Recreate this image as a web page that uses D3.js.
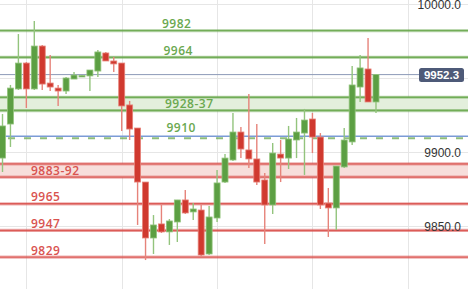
<!DOCTYPE html>
<html>
<head>
<meta charset="utf-8">
<script src="https://cdnjs.cloudflare.com/ajax/libs/d3/7.8.5/d3.min.js"></script>
<style>
  html, body { margin: 0; padding: 0; background: #fff; }
  svg { display: block; }
</style>
</head>
<body>
<div id="chart"></div>
<script>
// candle data, oldest first
var opens  = [9895.9, 9918.9, 9942.6, 9960.1, 9942.6, 9971.6, 9946.6, 9943.2, 9941.2, 9949.3,
              9951.0, 9951.4, 9954.7, 9966.9, 9961.5, 9960.1, 9931.8, 9916.2, 9879.7, 9841.9,
              9851.4, 9846.0, 9852.7, 9867.6, 9859.5, 9860.8, 9831.1, 9855.4, 9879.7, 9894.6,
              9913.5, 9901.4, 9895.3, 9881.1, 9864.2, 9898.6, 9895.9, 9908.1, 9912.8, 9922.3,
              9910.1, 9865.5, 9862.2, 9889.9, 9906.8, 9943.9, 9956.1, 9933.8];
var highs  = [9925.7, 9945.3, 9979.7, 9960.8, 9988.5, 9972.3, 9965.5, 9945.3, 9950.7, 9954.1,
              9952.0, 9955.4, 9968.9, 9967.6, 9964.2, 9960.1, 9934.5, 9916.2, 9879.7, 9857.4,
              9864.2, 9854.7, 9867.6, 9874.3, 9865.5, 9864.2, 9863.5, 9887.8, 9898.6, 9926.4,
              9916.9, 9939.2, 9918.9, 9885.8, 9906.1, 9908.1, 9917.6, 9923.0, 9929.1, 9926.4,
              9912.8, 9875.7, 9890.5, 9916.2, 9958.1, 9965.5, 9977.0, 9952.7];
var lows   = [9886.5, 9903.4, 9941.9, 9929.7, 9941.9, 9941.9, 9941.2, 9931.1, 9939.2, 9949.3,
              9950.7, 9941.2, 9950.7, 9961.5, 9954.1, 9914.2, 9908.1, 9850.7, 9827.0, 9831.1,
              9845.3, 9837.2, 9839.2, 9858.1, 9854.1, 9829.7, 9830.4, 9852.7, 9879.1, 9893.9,
              9895.9, 9889.2, 9877.7, 9837.8, 9858.1, 9879.7, 9888.5, 9895.9, 9884.5, 9899.3,
              9861.5, 9842.6, 9847.3, 9889.2, 9904.7, 9933.8, 9933.8, 9926.4];
var closes = [9917.6, 9943.2, 9960.1, 9942.6, 9971.6, 9945.9, 9943.9, 9941.2, 9950.0, 9952.0,
              9951.7, 9955.4, 9967.6, 9961.5, 9959.5, 9931.1, 9915.5, 9879.7, 9841.9, 9850.7,
              9846.0, 9853.4, 9867.6, 9858.8, 9861.5, 9830.4, 9856.1, 9879.1, 9895.9, 9913.5,
              9902.0, 9895.3, 9879.7, 9864.2, 9899.3, 9895.9, 9908.8, 9913.5, 9921.6, 9910.1,
              9864.2, 9862.2, 9890.5, 9908.1, 9945.3, 9956.8, 9933.8, 9952.3];

// resistance levels (green) and support levels (red); zones have two values
var greenLevels = [[9982], [9964], [9928, 9937], [9910]];
var greenLabels = ["9982", "9964", "9928-37", "9910"];
var redLevels   = [[9883, 9892], [9865], [9847], [9829]];
var redLabels   = ["9883-92", "9965", "9947", "9829"];

var lastPrice = 9952.3;
var yTicks = [10000, 9950, 9900, 9850];
var xGridIdx = [3, 15, 27, 39, 51];

var width = 468, height = 289;
var GREEN = "#5c9f43", GREEN_LIGHT = "#93c47d";
var RED = "#d0392f", RED_LIGHT = "#e6837a";
var LVL_GREEN = "#6aa84f", LVL_RED = "#d9534f";

var svg = d3.select("#chart").append("svg")
    .attr("width", width)
    .attr("height", height);

var x = d3.scaleLinear().domain([0, opens.length - 1]).range([2.5, 376]);
var y = d3.scaleLinear().domain([9850, 10000]).range([226, 4]);

// grid
var grid = svg.append("g").attr("id", "grid");
grid.selectAll("line.v").data(xGridIdx).enter().append("line")
    .attr("x1", function(d){ return Math.round(x(d)) + 0.5; })
    .attr("x2", function(d){ return Math.round(x(d)) + 0.5; })
    .attr("y1", 0).attr("y2", height)
    .attr("stroke", "#e6e6e6");
grid.selectAll("line.h").data(yTicks).enter().append("line")
    .attr("x1", 0).attr("x2", width)
    .attr("y1", function(d){ return Math.round(y(d)) + 0.5; })
    .attr("y2", function(d){ return Math.round(y(d)) + 0.5; })
    .attr("stroke", "#e6e6e6");

// zones
var zones = svg.append("g").attr("id", "zones");
function drawZone(lv, fill){
    if (lv.length < 2) return;
    zones.append("rect")
        .attr("x", 0).attr("width", width)
        .attr("y", y(lv[1]))
        .attr("height", y(lv[0]) - y(lv[1]))
        .attr("fill", fill);
}
greenLevels.forEach(function(lv){ drawZone(lv, "#e3efdc"); });
redLevels.forEach(function(lv){ drawZone(lv, "#f7dedb"); });

// last price line
svg.append("line")
    .attr("x1", 0).attr("x2", 420)
    .attr("y1", y(lastPrice)).attr("y2", y(lastPrice))
    .attr("stroke", "#8d9ab8").attr("stroke-width", 1);

// blue line under the 9910 level
svg.append("line")
    .attr("x1", 0).attr("x2", width)
    .attr("y1", y(9910.6)).attr("y2", y(9910.6))
    .attr("stroke", "#7b9bd6").attr("stroke-width", 1.6);

// level lines
var levels = svg.append("g").attr("id", "levels");
function drawLevel(v, color, dashed){
    var yy = y(v);
    if (dashed) {
        levels.append("line")
            .attr("x1", 0).attr("x2", width)
            .attr("y1", yy + 1).attr("y2", yy + 1)
            .attr("stroke", color).attr("stroke-width", 2)
            .attr("stroke-opacity", 0.75)
            .attr("stroke-dasharray", "7,9")
            .attr("stroke-dashoffset", -8);
        return;
    }
    levels.append("line")
        .attr("x1", 0).attr("x2", width)
        .attr("y1", yy).attr("y2", yy)
        .attr("stroke", color).attr("stroke-width", 3.2)
        .attr("stroke-opacity", 0.45);
    levels.append("line")
        .attr("x1", 0).attr("x2", width)
        .attr("y1", yy).attr("y2", yy)
        .attr("stroke", color).attr("stroke-width", 1.4)
        .attr("stroke-opacity", 0.9);
}
greenLevels.forEach(function(lv, i){
    lv.forEach(function(v){ drawLevel(v, LVL_GREEN, i === 3); });
});
redLevels.forEach(function(lv){
    lv.forEach(function(v){ drawLevel(v, LVL_RED, false); });
});

// candles
var candles = svg.append("g").attr("id", "candles");
var idx = d3.range(opens.length);
var bodyW = 6;
candles.selectAll("line.wick").data(idx).enter().append("line")
    .attr("x1", function(i){ return x(i); })
    .attr("x2", function(i){ return x(i); })
    .attr("y1", function(i){ return y(highs[i]); })
    .attr("y2", function(i){ return y(lows[i]); })
    .attr("stroke", function(i){ return closes[i] >= opens[i] ? GREEN_LIGHT : RED_LIGHT; })
    .attr("stroke-width", 1.4);
candles.selectAll("rect.body").data(idx).enter().append("rect")
    .attr("x", function(i){ return x(i) - bodyW / 2; })
    .attr("width", bodyW)
    .attr("y", function(i){ return y(Math.max(opens[i], closes[i])); })
    .attr("height", function(i){ return Math.max(1.5, Math.abs(y(opens[i]) - y(closes[i]))); })
    .attr("fill", function(i){ return closes[i] >= opens[i] ? GREEN : RED; })
    .attr("stroke", function(i){ return closes[i] >= opens[i] ? GREEN_LIGHT : RED_LIGHT; })
    .attr("stroke-width", 0.8);

// level labels
var labels = svg.append("g").attr("id", "labels")
    .attr("font-family", "'Open Sans', sans-serif")
    .attr("font-size", 12)
    .attr("font-weight", 600)
    .attr("letter-spacing", 0.5);
greenLevels.forEach(function(lv, i){
    labels.append("text")
        .attr("x", 162 + i * 1.5)
        .attr("y", y(lv[0]) - (i === 3 ? 5 : 2.5))
        .attr("fill", "#6aa84f")
        .text(greenLabels[i]);
});
redLevels.forEach(function(lv, i){
    labels.append("text")
        .attr("x", 31)
        .attr("y", y(lv[0]) - 2.5)
        .attr("fill", "#d9534f")
        .text(redLabels[i]);
});

// right axis labels (the one under the price tag is hidden)
svg.append("g").attr("id", "axis")
    .selectAll("text")
    .data(yTicks.filter(function(d){ return Math.abs(y(d) - y(lastPrice)) > 10; }))
    .enter().append("text")
    .attr("x", 461)
    .attr("y", function(d){ return y(d) + 5; })
    .attr("text-anchor", "end")
    .attr("font-family", "'Liberation Sans', Arial, sans-serif")
    .attr("font-size", 12)
    .attr("fill", "#333")
    .text(function(d){ return d3.format(".1f")(d); });

// last price tag
var tag = svg.append("g").attr("id", "priceTag");
tag.append("rect")
    .attr("x", 419).attr("y", y(lastPrice) - 6.5)
    .attr("width", 45).attr("height", 14)
    .attr("rx", 2.5)
    .attr("fill", "#4e5a78");
tag.append("text")
    .attr("x", 441.5).attr("y", y(lastPrice) + 4)
    .attr("text-anchor", "middle")
    .attr("font-family", "'Liberation Sans', Arial, sans-serif")
    .attr("font-size", 11.5)
    .attr("font-weight", "bold")
    .attr("fill", "#fff")
    .text(d3.format(".1f")(lastPrice));
</script>
</body>
</html>
